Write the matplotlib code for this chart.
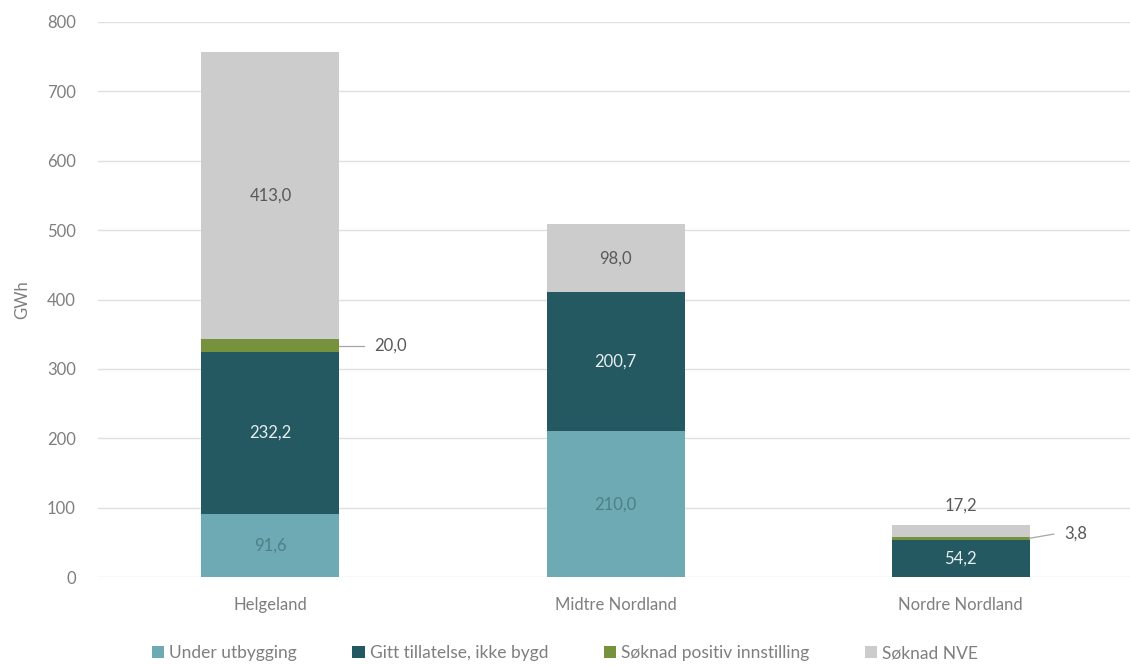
import matplotlib
matplotlib.use("Agg")
import matplotlib.pyplot as plt
import numpy as np

plt.rcParams['font.family'] = ['Lato', 'DejaVu Sans']

regions = ['Helgeland', 'Midtre Nordland', 'Nordre Nordland']
series = ['Under utbygging', 'Gitt tillatelse, ikke bygd', 'Søknad positiv innstilling', 'Søknad NVE']
under_utbygging = [91.6, 210.0, 0.0]
gitt_tillatelse = [232.2, 200.7, 54.2]
soknad_positiv = [20.0, 0.0, 3.8]
soknad_nve = [413.0, 98.0, 17.2]
yticks = [0, 100, 200, 300, 400, 500, 600, 700, 800]

colors = ['#6eaab4', '#245962', '#76923c', '#cccccc']
label_colors = ['#4f7f87', '#e6eef0', '#595959', '#595959']
values = [under_utbygging, gitt_tillatelse, soknad_positiv, soknad_nve]

fig = plt.figure(figsize=(11.3, 6.65), dpi=100)
ax = fig.add_axes([0.0867, 0.132, 0.916, 0.835])

x = np.arange(len(regions))
width = 0.4
bottom = np.zeros(len(regions))
for vals, col, lcol, name in zip(values, colors, label_colors, series):
    vals = np.array(vals)
    ax.bar(x, vals, width, bottom=bottom, color=col, label=name, zorder=2)
    for i, v in enumerate(vals):
        if v >= 50:
            ax.text(x[i], bottom[i] + v / 2, f'{v:.1f}'.replace('.', ','),
                    ha='center', va='center', fontsize=12, color=lcol, zorder=3)
    bottom += vals

# small segments labelled outside the bars
def outside(i, base, v, dy=0):
    mid = base + v / 2
    ax.plot([x[i] + width / 2, x[i] + width / 2 + 0.07], [mid, mid + dy],
            color='#a6a6a6', lw=0.9, zorder=3)
    ax.text(x[i] + width / 2 + 0.1, mid + dy, f'{v:.1f}'.replace('.', ','),
            ha='left', va='center', fontsize=12, color='#595959')

outside(0, under_utbygging[0] + gitt_tillatelse[0], soknad_positiv[0])
outside(2, under_utbygging[2] + gitt_tillatelse[2], soknad_positiv[2], dy=6)
ax.text(x[2], bottom[2] + 28, f'{soknad_nve[2]:.1f}'.replace('.', ','),
        ha='center', va='center', fontsize=12, color='#595959')

ax.set_xlim(-0.5, 2.5)
ax.set_ylim(0, 800)
ax.set_yticks(yticks)
ax.set_xticks(x)
ax.set_xticklabels(regions)
ax.tick_params(axis='both', length=0, labelsize=12, colors='#7f7f7f')
ax.tick_params(axis='y', pad=16)
ax.tick_params(axis='x', pad=14)
ax.grid(axis='y', color='#e0e0e0', lw=1, zorder=0)
for s in ax.spines.values():
    s.set_visible(False)
ax.set_ylabel('GWh', fontsize=12, color='#7f7f7f', labelpad=12)

fig.legend(loc='lower center', bbox_to_anchor=(0.5, -0.018), ncol=4, frameon=False,
           fontsize=12.5, labelcolor='#7f7f7f', handlelength=0.7, handleheight=0.7,
           handletextpad=0.3, columnspacing=3.2)

fig.savefig('out.png', dpi=100)
